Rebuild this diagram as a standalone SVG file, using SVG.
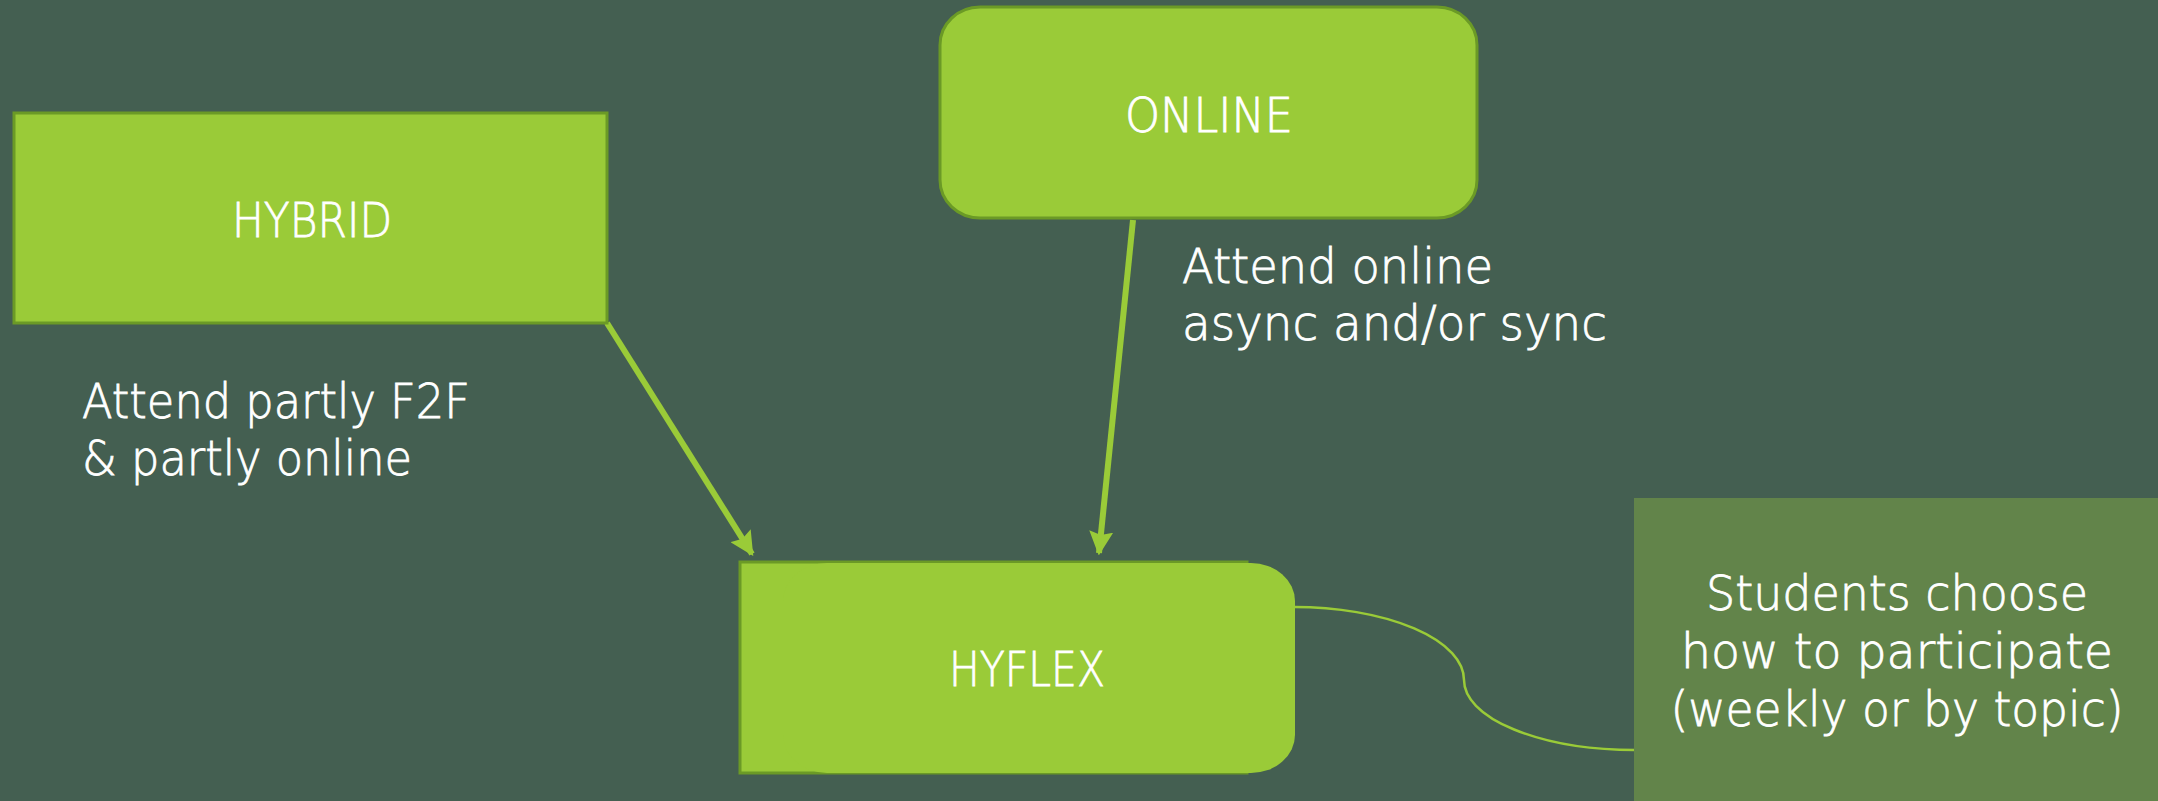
<svg xmlns="http://www.w3.org/2000/svg" width="2158" height="801" viewBox="0 0 2158 801">
<style>
.bg{fill:#445f51}
.box{fill:#9acb38;stroke:#6b9a26;stroke-width:3}
.fill{fill:#9acb38}
.t{font-family:"DejaVu Sans","Liberation Sans",sans-serif;font-weight:200;fill:#ffffff;stroke:#ffffff;stroke-width:0.8;font-size:48px}
.c{text-anchor:middle}
.arrow{stroke:#9acb38;stroke-width:6;fill:none}
.curve{stroke:#9acb38;stroke-width:2.5;fill:none}
</style>
<defs>
<marker id="ah" markerWidth="4" markerHeight="4" refX="3.6" refY="2" orient="auto" markerUnits="strokeWidth">
<path d="M0,0 L4,2 L0,4 L0.6,2 Z" fill="#9acb38"/>
</marker>
</defs>
<rect class="bg" x="0" y="0" width="2158" height="801"/>
<g id="connectors">
<line class="arrow" x1="607" y1="323" x2="752" y2="554" marker-end="url(#ah)"/>
<line class="arrow" x1="1133" y1="220" x2="1099" y2="553" marker-end="url(#ah)"/>
<path class="curve" d="M1294,607 A170,73 0 0 1 1464,680 A171,70 0 0 0 1635,750"/>
</g>
<g id="hybrid">
<rect class="box" x="14" y="113" width="593" height="210"/>
<text class="t c" x="312" y="237" textLength="160" lengthAdjust="spacingAndGlyphs">HYBRID</text>
</g>
<g id="online">
<rect class="box" x="940" y="7" width="537" height="211" rx="40" ry="38"/>
<text class="t c" x="1209" y="132" textLength="168" lengthAdjust="spacingAndGlyphs">ONLINE</text>
</g>
<g id="hyflex">
<rect class="box" x="740" y="562" width="507" height="211"/>
<rect class="fill" x="783" y="563" width="512" height="210" rx="44" ry="38"/>
<text class="t c" x="1027" y="686" textLength="156" lengthAdjust="spacingAndGlyphs">HYFLEX</text>
</g>
<g id="label-hybrid">
<text class="t" x="82" y="418" textLength="388" lengthAdjust="spacingAndGlyphs">Attend partly F2F</text>
<text class="t" x="82" y="475" textLength="330" lengthAdjust="spacingAndGlyphs">&amp; partly online</text>
</g>
<g id="label-online">
<text class="t" x="1182" y="283" textLength="311" lengthAdjust="spacingAndGlyphs">Attend online</text>
<text class="t" x="1182" y="340" textLength="425" lengthAdjust="spacingAndGlyphs">async and/or sync</text>
</g>
<g id="students">
<rect x="1634" y="498" width="524" height="303" fill="#62844a"/>
<text class="t c" x="1897" y="610" textLength="382" lengthAdjust="spacingAndGlyphs">Students choose</text>
<text class="t c" x="1897" y="668" textLength="432" lengthAdjust="spacingAndGlyphs">how to participate</text>
<text class="t c" x="1897" y="726" textLength="453" lengthAdjust="spacingAndGlyphs">(weekly or by topic)</text>
</g>
</svg>
